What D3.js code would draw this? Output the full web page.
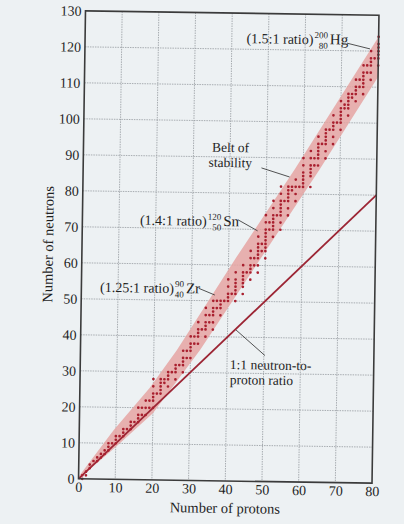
<!DOCTYPE html>
<html lang="en">
<head>
<meta charset="UTF-8">
<title>Belt of stability</title>
<script src="https://d3js.org/d3.v7.min.js"></script>
<style>
  body { margin: 0; background: #edf1f3; }
  svg { display: block; }
  text { font-family: "Liberation Serif", "Times New Roman", serif; fill: #1f1f1f; }
</style>
</head>
<body>
<div id="chart"></div>
<script>
// axis ticks
const xTicks = [0, 10, 20, 30, 40, 50, 60, 70, 80];
const yTicks = [0, 10, 20, 30, 40, 50, 60, 70, 80, 90, 100, 110, 120, 130];

// belt of stability edges, [protons, neutrons]
const beltUpper = [[0, 0.6], [9.4, 13.7], [19, 25.5], [26.3, 36.2], [42.2, 62.3], [57.6, 86.7], [80, 124]];
const beltLower = [[0, 0], [10, 9], [20, 18.5], [22.5, 22], [32.6, 36.3], [64.4, 86.8], [80, 112.8]];

// 1:1 neutron-to-proton line
const oneToOne = [[0, 0], [80, 80]];

// stable nuclides: neutron counts for each proton number (index = Z)
const stableN = [
  [],
  [0, 1], [1, 2], [3, 4], [5], [5, 6], [6, 7], [7, 8], [8, 9, 10], [10], [10, 11, 12],
  [12], [12, 13, 14], [14], [14, 15, 16], [16], [16, 17, 18, 20], [18, 20], [18, 20, 22], [20, 22], [20, 22, 23, 24, 26, 28],
  [24], [24, 25, 26, 27, 28], [27, 28], [26, 28, 29, 30], [30], [28, 30, 31, 32], [32], [30, 32, 33, 34, 36], [34, 36], [34, 36, 37, 38, 40],
  [38, 40], [38, 40, 41, 42, 44], [42], [40, 42, 43, 44, 46, 48], [44, 46], [42, 44, 46, 47, 48, 50], [48, 50], [46, 48, 49, 50], [50], [50, 51, 52, 54, 56],
  [52], [50, 52, 53, 54, 55, 56, 58], [], [52, 54, 55, 56, 57, 58, 60], [58], [56, 58, 59, 60, 62, 64], [60, 62], [58, 60, 62, 63, 64, 65, 66, 68], [64, 66], [62, 64, 65, 66, 67, 68, 69, 70, 72, 74],
  [70, 72], [68, 70, 71, 72, 73, 74, 76, 78], [74], [70, 72, 74, 75, 76, 77, 78, 80, 82], [78], [74, 76, 78, 79, 80, 81, 82], [81, 82], [78, 80, 82, 84], [82], [82, 83, 84, 85, 86, 88, 90],
  [], [82, 85, 86, 87, 88, 90, 92], [88, 90], [88, 90, 91, 92, 93, 94, 96], [94], [90, 92, 94, 95, 96, 97, 98], [98], [94, 96, 98, 99, 100, 102], [100], [98, 100, 101, 102, 103, 104, 106],
  [104, 105], [102, 104, 105, 106, 107, 108], [107, 108], [106, 108, 109, 110, 112], [110, 112], [108, 110, 111, 112, 113, 114, 116], [114, 116], [112, 114, 116, 117, 118, 120], [118], [116, 118, 119, 120, 121, 122, 124]
];

const width = 404, height = 524;
const plotLeft = 82, plotRight = 375.5, plotTop = 13, plotBottom = 481;

const x = d3.scaleLinear().domain([0, 80]).range([plotLeft, plotRight]);
const y = d3.scaleLinear().domain([0, 130]).range([plotBottom, plotTop]);

const svg = d3.select("#chart").append("svg")
    .attr("width", width)
    .attr("height", height);

svg.append("rect")
    .attr("width", width)
    .attr("height", height)
    .attr("fill", "#edf1f3");

// the scanned page is slightly tilted
const g = svg.append("g")
    .attr("transform", `rotate(0.85, ${(plotLeft + plotRight) / 2}, ${(plotTop + plotBottom) / 2})`);

// grid
g.selectAll(".vgrid")
    .data(xTicks.slice(1, -1))
    .enter().append("line")
    .attr("x1", d => x(d)).attr("x2", d => x(d))
    .attr("y1", plotTop).attr("y2", plotBottom)
    .attr("stroke", "#979ca1")
    .attr("stroke-width", 0.8)
    .attr("stroke-dasharray", "1.5,1");

g.selectAll(".hgrid")
    .data(yTicks.slice(1, -1))
    .enter().append("line")
    .attr("x1", plotLeft).attr("x2", plotRight)
    .attr("y1", d => y(d)).attr("y2", d => y(d))
    .attr("stroke", "#979ca1")
    .attr("stroke-width", 0.8)
    .attr("stroke-dasharray", "1.5,1");

// belt of stability
const line = d3.line().x(d => x(d[0])).y(d => y(d[1]));
const beltPts = beltUpper.concat(beltLower.slice().reverse());
g.append("path")
    .attr("d", line(beltPts) + "Z")
    .attr("fill", "#e5a5a2")
    .attr("fill-opacity", 0.85);

// 1:1 line
g.append("path")
    .attr("d", line(oneToOne))
    .attr("fill", "none")
    .attr("stroke", "#9c2534")
    .attr("stroke-width", 1.8);

// stable nuclides
const nuclides = [];
stableN.forEach((ns, z) => ns.forEach(n => nuclides.push({ z: z, n: n })));
g.selectAll(".dot")
    .data(nuclides)
    .enter().append("circle")
    .attr("cx", d => x(d.z))
    .attr("cy", d => y(d.n))
    .attr("r", 1.35)
    .attr("fill", "#a9202f");

// frame
g.append("rect")
    .attr("x", plotLeft).attr("y", plotTop)
    .attr("width", plotRight - plotLeft).attr("height", plotBottom - plotTop)
    .attr("fill", "none")
    .attr("stroke", "#3b3b3b")
    .attr("stroke-width", 1.6);

// axes
const xAxis = g.append("g")
    .attr("transform", `translate(0,${plotBottom})`)
    .call(d3.axisBottom(x).tickValues(xTicks).tickSize(0).tickPadding(3));
const yAxis = g.append("g")
    .attr("transform", `translate(${plotLeft},0)`)
    .call(d3.axisLeft(y).tickValues(yTicks).tickSize(0).tickPadding(4));
[xAxis, yAxis].forEach(a => {
    a.select(".domain").remove();
    a.selectAll("text")
        .attr("font-family", "Liberation Serif, serif")
        .attr("font-size", 14)
        .attr("fill", "#1f1f1f");
});

g.append("text")
    .attr("x", (plotLeft + plotRight) / 2)
    .attr("y", 513)
    .attr("text-anchor", "middle")
    .attr("font-size", 14.5)
    .text("Number of protons");

g.append("text")
    .attr("transform", `translate(53,${(plotTop + plotBottom) / 2}) rotate(-90)`)
    .attr("text-anchor", "middle")
    .attr("font-size", 14.5)
    .text("Number of neutrons");

// annotations with stacked mass / atomic numbers
function ratioLabel(zx, ny, prefix, mass, atomic, sym) {
    const t = g.append("text")
        .attr("x", x(zx)).attr("y", y(ny))
        .attr("font-size", 14)
        .text(prefix);
    const sx = x(zx) + t.node().getComputedTextLength() + 1;
    const sup = g.append("text")
        .attr("x", sx).attr("y", y(ny) - 6)
        .attr("font-size", 9)
        .text(mass);
    const supW = sup.node().getComputedTextLength();
    g.append("text")
        .attr("x", sx + supW).attr("y", y(ny) + 4.5)
        .attr("text-anchor", "end")
        .attr("font-size", 9)
        .text(atomic);
    g.append("text")
        .attr("x", sx + supW + 2).attr("y", y(ny))
        .attr("font-size", 15)
        .text(sym);
}

ratioLabel(44.0, 121.7, "(1.5:1 ratio)", "200", "80", "Hg");
ratioLabel(15.7, 70.8, "(1.4:1 ratio)", "120", "50", "Sn");
ratioLabel(5.1, 52.0, "(1.25:1 ratio)", "90", "40", "Zr");

g.append("text")
    .attr("x", x(40.1)).attr("y", y(91.4))
    .attr("text-anchor", "middle")
    .attr("font-size", 13.5)
    .text("Belt of");
g.append("text")
    .attr("x", x(40.1)).attr("y", y(87.2))
    .attr("text-anchor", "middle")
    .attr("font-size", 13.5)
    .text("stability");

g.append("text")
    .attr("x", x(40.8)).attr("y", y(31.1))
    .attr("font-size", 13.5)
    .text("1:1 neutron-to-");
g.append("text")
    .attr("x", x(40.8)).attr("y", y(26.9))
    .attr("font-size", 13.5)
    .text("proton ratio");

const leaders = [
    [[71.4, 122.1], [77.7, 120.6]],
    [[48.6, 87.1], [56.3, 84.7]],
    [[42.4, 72.6], [47.8, 69.6]],
    [[32.0, 53.4], [36.4, 51.6]],
    [[50.3, 35.0], [42.3, 42.0]]
];
g.selectAll(".leader")
    .data(leaders)
    .enter().append("path")
    .attr("d", d => line(d))
    .attr("fill", "none")
    .attr("stroke", "#2a2a2a")
    .attr("stroke-width", 0.8);
</script>
</body>
</html>
